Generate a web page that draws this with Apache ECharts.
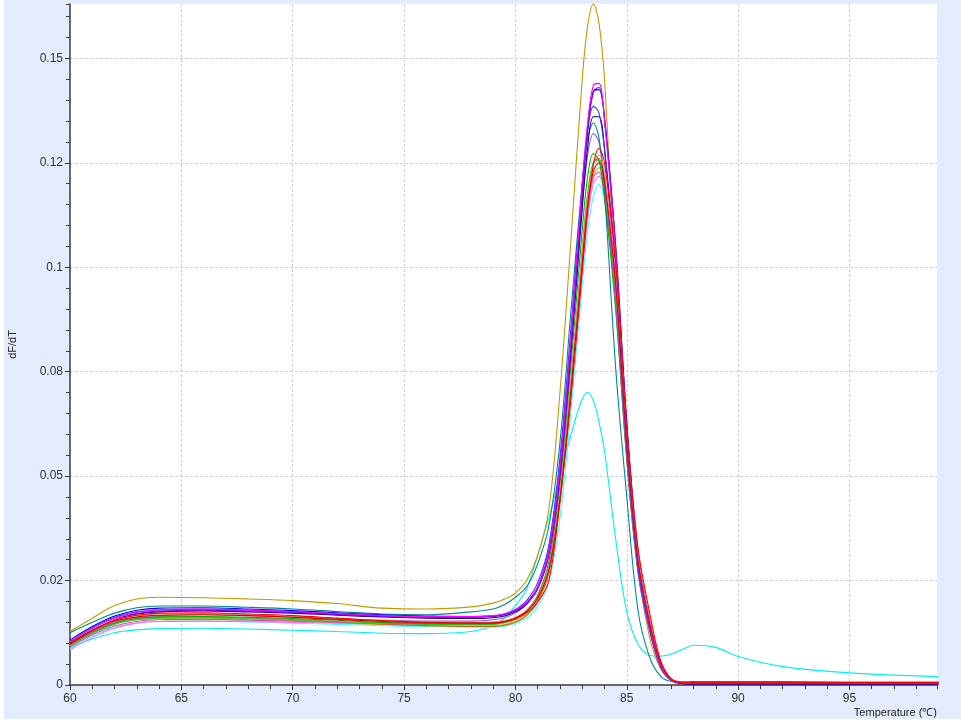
<!DOCTYPE html>
<html>
<head>
<meta charset="utf-8">
<script src="https://cdn.jsdelivr.net/npm/echarts@6/dist/echarts.min.js"></script>
<style>
html,body{margin:0;padding:0;background:#ffffff;}
#chart{position:absolute;left:4px;top:0;width:957px;height:719px;}
</style>
</head>
<body>
<div id="chart"></div>
<script>
// Temperatures (°C) at which each curve is sampled
const temps = [60,61,62,63,64,66,68,70,72,74,76,78,79,79.5,80,80.5,81,81.5,82,82.5,83,83.25,83.5,83.75,84,84.5,85,85.5,86,86.5,87,87.5,88,89,90,92,95,99];

// y-axis tick values and their printed labels
const yTickValues = [0,0.025,0.05,0.075,0.1,0.125,0.15];
const yTickLabels = ['0','0.02','0.05','0.08','0.1','0.12','0.15'];

// dF/dT curves (one array per well)
const gold = [0.0128,0.0160,0.0190,0.0206,0.0210, 0.0209,0.0206,0.0202,0.0195,0.0184,0.0182,0.0187, 0.0196,0.0205,0.0220,0.0250,0.0310,0.0420,0.0700,0.1070,0.1450, 0.1580,0.1630,0.1585,0.1450, 0.0950,0.0550,0.0280,0.0120,0.0040,0.0010,0.0005,0.0004, 0.0004,0.0004,0.0004,0.0004,0.0004];
const cyanLow = [0.0088,0.0110,0.0125,0.0132,0.0135, 0.0136,0.0134,0.0131,0.0128,0.0124,0.0123,0.0128, 0.0142,0.0160,0.0190,0.0230,0.0310,0.0400,0.0500,0.0600,0.0685, 0.0700,0.0680,0.0630,0.0560, 0.0350,0.0175,0.0098,0.0072,0.0069,0.0074,0.0085,0.0095, 0.0090,0.0068,0.0044,0.0029,0.0020];
const magenta = [0.0103,0.0135,0.0160,0.0174,0.0180, 0.0182,0.0179,0.0176,0.0171,0.0166,0.0164,0.0164, 0.0166,0.0170,0.0180,0.0198,0.0235,0.0320,0.0520,0.0840,0.1200, 0.1350,0.1435,0.1440,0.1350, 0.1030,0.0600,0.0300,0.0150,0.0050,0.0012,0.0005,0.0004, 0.0004,0.0004,0.0004,0.0004,0.0004];
const violet = [0.0100,0.0132,0.0157,0.0171,0.0177, 0.0179,0.0177,0.0174,0.0169,0.0164,0.0162,0.0162, 0.0164,0.0168,0.0177,0.0195,0.0230,0.0310,0.0500,0.0810,0.1170, 0.1330,0.1420,0.1430,0.1360, 0.1050,0.0620,0.0310,0.0155,0.0052,0.0013,0.0004,0.0003, 0.0003,0.0003,0.0003,0.0003,0.0003];
const blue = [0.0108,0.0140,0.0165,0.0179,0.0184, 0.0185,0.0182,0.0178,0.0173,0.0168,0.0165,0.0164, 0.0165,0.0169,0.0178,0.0196,0.0232,0.0315,0.0510,0.0820,0.1180, 0.1335,0.1420,0.1425,0.1355, 0.1050,0.0630,0.0320,0.0160,0.0055,0.0013,0.0005,0.0004, 0.0004,0.0004,0.0004,0.0004,0.0004];
const royal = [0.0104,0.0137,0.0162,0.0175,0.0180, 0.0181,0.0179,0.0175,0.0170,0.0166,0.0164,0.0163, 0.0165,0.0170,0.0181,0.0202,0.0245,0.0335,0.0545,0.0860,0.1200, 0.1330,0.1385,0.1370,0.1280, 0.0970,0.0570,0.0285,0.0140,0.0046,0.0011,0.0005,0.0004, 0.0004,0.0004,0.0004,0.0004,0.0004];
const navy = [0.0100,0.0131,0.0156,0.0170,0.0175, 0.0177,0.0175,0.0172,0.0167,0.0163,0.0160,0.0159, 0.0161,0.0165,0.0175,0.0194,0.0232,0.0315,0.0505,0.0800,0.1140, 0.1290,0.1360,0.1360,0.1285, 0.0990,0.0590,0.0295,0.0148,0.0050,0.0012,0.0003,0.0002, 0.0002,0.0002,0.0002,0.0002,0.0002];
const teal = [0.0125,0.0150,0.0172,0.0185,0.0189, 0.0189,0.0186,0.0182,0.0176,0.0170,0.0168,0.0175, 0.0182,0.0192,0.0210,0.0235,0.0290,0.0380,0.0580,0.0900,0.1200, 0.1310,0.1345,0.1310,0.1180, 0.0760,0.0450,0.0180,0.0070,0.0022,0.0009,0.0008,0.0008, 0.0008,0.0008,0.0008,0.0007,0.0007];
const purple = [0.0097,0.0127,0.0150,0.0162,0.0166, 0.0168,0.0166,0.0163,0.0159,0.0155,0.0153,0.0153, 0.0156,0.0161,0.0172,0.0193,0.0236,0.0325,0.0530,0.0830,0.1150, 0.1270,0.1320,0.1300,0.1210, 0.0910,0.0540,0.0270,0.0135,0.0045,0.0011,0.0004,0.0003, 0.0003,0.0003,0.0003,0.0003,0.0003];
const green = [0.0096,0.0126,0.0148,0.0159,0.0163, 0.0164,0.0162,0.0159,0.0155,0.0150,0.0147,0.0146, 0.0147,0.0151,0.0160,0.0178,0.0215,0.0295,0.0480,0.0770,0.1090, 0.1220,0.1272,0.1255,0.1170, 0.0900,0.0540,0.0275,0.0140,0.0048,0.0012,0.0005,0.0004, 0.0004,0.0004,0.0004,0.0004,0.0004];
const green2 = [0.0093,0.0123,0.0145,0.0156,0.0160, 0.0161,0.0159,0.0156,0.0152,0.0148,0.0145,0.0144, 0.0145,0.0149,0.0157,0.0174,0.0208,0.0280,0.0455,0.0730,0.1040, 0.1180,0.1250,0.1255,0.1190, 0.0930,0.0560,0.0285,0.0145,0.0050,0.0012,0.0005,0.0004, 0.0004,0.0004,0.0004,0.0004,0.0004];
const olive = [0.0094,0.0124,0.0146,0.0156,0.0159, 0.0160,0.0157,0.0154,0.0149,0.0145,0.0142,0.0141, 0.0142,0.0145,0.0152,0.0168,0.0200,0.0268,0.0435,0.0705,0.1010, 0.1145,0.1220,0.1238,0.1185, 0.0935,0.0560,0.0282,0.0142,0.0048,0.0012,0.0005,0.0004, 0.0004,0.0004,0.0004,0.0004,0.0004];
const brown = [0.0098,0.0128,0.0150,0.0160,0.0163, 0.0163,0.0160,0.0156,0.0151,0.0146,0.0142,0.0140, 0.0140,0.0143,0.0150,0.0166,0.0200,0.0270,0.0445,0.0725,0.1040, 0.1175,0.1250,0.1260,0.1200, 0.0940,0.0560,0.0280,0.0140,0.0047,0.0011,0.0004,0.0003, 0.0003,0.0003,0.0003,0.0003,0.0003];
const deepPink = [0.0090,0.0120,0.0141,0.0152,0.0156, 0.0157,0.0155,0.0153,0.0150,0.0147,0.0146,0.0146, 0.0148,0.0152,0.0161,0.0178,0.0212,0.0282,0.0455,0.0720,0.1010, 0.1140,0.1215,0.1228,0.1170, 0.0920,0.0555,0.0285,0.0145,0.0050,0.0012,0.0005,0.0004, 0.0004,0.0004,0.0004,0.0004,0.0004];
const pink = [0.0084,0.0114,0.0136,0.0148,0.0152, 0.0153,0.0152,0.0150,0.0148,0.0146,0.0145,0.0145, 0.0147,0.0150,0.0158,0.0174,0.0205,0.0272,0.0440,0.0700,0.0990, 0.1120,0.1200,0.1218,0.1170, 0.0930,0.0565,0.0290,0.0150,0.0052,0.0013,0.0005,0.0005, 0.0005,0.0005,0.0005,0.0005,0.0005];
const cyan = [0.0088,0.0117,0.0138,0.0148,0.0152, 0.0153,0.0151,0.0148,0.0145,0.0142,0.0140,0.0139, 0.0139,0.0141,0.0147,0.0160,0.0188,0.0245,0.0400,0.0660,0.0960, 0.1090,0.1170,0.1198,0.1160, 0.0940,0.0580,0.0300,0.0155,0.0055,0.0014,0.0006,0.0005, 0.0005,0.0005,0.0005,0.0005,0.0005];
const salmon = [0.0102,0.0133,0.0156,0.0166,0.0170, 0.0171,0.0168,0.0164,0.0159,0.0154,0.0151,0.0150, 0.0151,0.0154,0.0162,0.0178,0.0210,0.0280,0.0455,0.0725,0.1030, 0.1165,0.1245,0.1268,0.1225, 0.0985,0.0600,0.0315,0.0165,0.0058,0.0015,0.0007,0.0006, 0.0006,0.0006,0.0006,0.0006,0.0006];
const red2 = [0.0101,0.0131,0.0153,0.0163,0.0167, 0.0168,0.0166,0.0162,0.0157,0.0152,0.0149,0.0148, 0.0149,0.0152,0.0160,0.0176,0.0208,0.0275,0.0445,0.0710,0.1010, 0.1150,0.1230,0.1250,0.1205, 0.0960,0.0580,0.0300,0.0155,0.0055,0.0014,0.0006,0.0005, 0.0005,0.0005,0.0005,0.0005,0.0005];
const red = [0.0098,0.0130,0.0155,0.0167,0.0172, 0.0173,0.0170,0.0166,0.0160,0.0154,0.0150,0.0148, 0.0148,0.0151,0.0158,0.0172,0.0198,0.0250,0.0440,0.0690,0.0990, 0.1140,0.1245,0.1284,0.1250, 0.1010,0.0610,0.0330,0.0180,0.0062,0.0014,0.0006,0.0005, 0.0005,0.0005,0.0005,0.0005,0.0005];

const curves = [
  {name:'cyanLow', data:cyanLow, color:'#00f0f0'},
  {name:'gold', data:gold, color:'#c49a00'},
  {name:'cyan', data:cyan, color:'#40ffff'},
  {name:'pink', data:pink, color:'#ff70f0'},
  {name:'olive', data:olive, color:'#c8b400'},
  {name:'brown', data:brown, color:'#c8641e'},
  {name:'deepPink', data:deepPink, color:'#ff40c0'},
  {name:'green2', data:green2, color:'#30d030'},
  {name:'green', data:green, color:'#00b000'},
  {name:'purple', data:purple, color:'#8a5cc8'},
  {name:'teal', data:teal, color:'#008a8a'},
  {name:'navy', data:navy, color:'#000080'},
  {name:'royal', data:royal, color:'#3a3aff'},
  {name:'blue', data:blue, color:'#0000ff'},
  {name:'violet', data:violet, color:'#7a00e0'},
  {name:'magenta', data:magenta, color:'#ff00ff'},
  {name:'salmon', data:salmon, color:'#ff8080'},
  {name:'red2', data:red2, color:'#e00000'},
  {name:'red', data:red, color:'#ff0000'}
];

const xMin = 60, xMax = 98.93, yMin = 0, yMax = 0.163;

const chart = echarts.init(document.getElementById('chart'), null, {renderer:'canvas'});
const axisLineStyle = {color:'#3a3a3a', width:1.5};
const gridLine = {show:true, showMinLine:false, showMaxLine:false, lineStyle:{color:'#cfcfcf', type:[3,2], width:1}};
const font = 'Liberation Sans, Arial, sans-serif';

const option = {
  backgroundColor:'#e2ecfc',
  animation:false,
  grid:{left:66, right:24, top:4, bottom:34, show:true, backgroundColor:'#ffffff', borderWidth:0,
        containLabel:false, outerBoundsMode:'none'},
  xAxis:[
    {type:'value', min:xMin, max:xMax, interval:5,
     axisLine:{show:true, lineStyle:axisLineStyle, onZero:false},
     axisTick:{show:true, length:5, lineStyle:{color:'#3a3a3a'}},
     axisLabel:{color:'#333', fontSize:12, margin:8, showMaxLabel:false, fontFamily:font},
     splitLine:gridLine},
    {type:'value', min:xMin, max:xMax, interval:1, position:'bottom',
     axisLine:{show:false}, axisTick:{show:true, length:4, lineStyle:{color:'#3a3a3a'}},
     axisLabel:{show:false}, splitLine:{show:false}}
  ],
  yAxis:[
    {type:'value', min:yMin, max:yMax, interval:0.025,
     name:'dF/dT', nameLocation:'middle', nameGap:52, nameRotate:90,
     nameTextStyle:{color:'#222', fontSize:11, fontFamily:font},
     axisLine:{show:true, lineStyle:axisLineStyle, onZero:false},
     axisTick:{show:true, length:5, lineStyle:{color:'#3a3a3a'}},
     axisLabel:{color:'#333', fontSize:12, margin:7, showMaxLabel:false, fontFamily:font,
       formatter:function(v){
         for (let i=0;i<yTickValues.length;i++){ if (Math.abs(yTickValues[i]-v)<1e-9) return yTickLabels[i]; }
         return '';
       }},
     splitLine:gridLine},
    {type:'value', min:yMin, max:yMax, interval:0.005, position:'left',
     axisLine:{show:false}, axisTick:{show:true, length:4, lineStyle:{color:'#3a3a3a'}},
     axisLabel:{show:false}, splitLine:{show:false}}
  ],
  graphic:[
    {type:'text', right:24, top:707,
     style:{text:'Temperature (\u2103)', fill:'#222', fontSize:11, fontFamily:font}}
  ],
  series: curves.map(c => ({
    name:c.name, type:'line', xAxisIndex:0, yAxisIndex:0,
    data: temps.map((t,i)=>[t, c.data[i]]),
    showSymbol:false, smooth:0.35,
    lineStyle:{color:c.color, width:1.1},
    itemStyle:{color:c.color},
    emphasis:{disabled:true}
  }))
};
chart.setOption(option);
</script>
</body>
</html>
